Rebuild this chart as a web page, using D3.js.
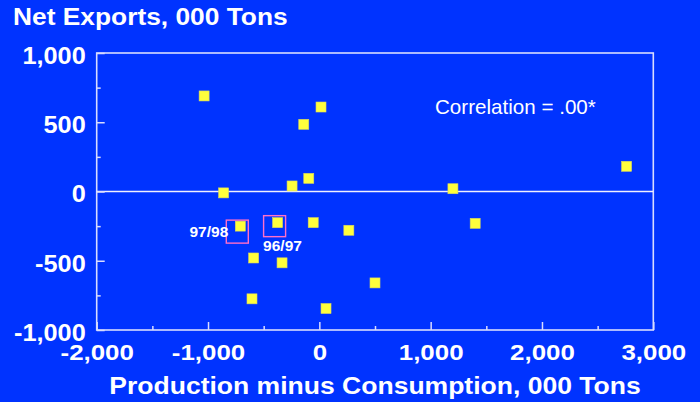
<!DOCTYPE html>
<html>
<head>
<meta charset="utf-8">
<script src="https://cdn.jsdelivr.net/npm/d3@7"></script>
<style>
  html, body { margin: 0; padding: 0; background: #0033FF; }
  svg { display: block; }
  text { font-family: "Liberation Sans", Arial, sans-serif; }
</style>
</head>
<body>
<svg id="chart" width="700" height="402"></svg>
<script>
// ---- data ----
const pointX = [-1035, 15, -140, -95, -245, -860, -710, -375, -55, 265, -590, -335, 500, -605, 60, 1200, 1400, 2760];
const pointY = [690, 610, 485, 95, 40, -10, -250, -225, -225, -280, -480, -515, -660, -775, -845, 20, -230, 182];
const annotatedIndex = [6, 7];
const annotatedText = ["97/98", "96/97"];
const xTickValues = [-2000, -1000, 0, 1000, 2000, 3000];
const xTickLabels = ["-2,000", "-1,000", "0", "1,000", "2,000", "3,000"];
const xMinorTicks = [-1500, -500, 500, 1500, 2500];
const yTickValues = [-1000, -500, 0, 500, 1000];
const yTickLabels = ["-1,000", "-500", "0", "500", "1,000"];
const yMinorTicks = [-750, -250, 250, 750];
const titleText = "Net Exports, 000 Tons";
const xTitleText = "Production minus Consumption, 000 Tons";
const noteText = "Correlation = .00*";

// ---- layout ----
const svg = d3.select("#chart");
const mLeft = 96.7, mRight = 653.3, mTop = 53, mBottom = 330;
const x = d3.scaleLinear().domain([-2000, 3000]).range([mLeft, mRight]);
const y = d3.scaleLinear().domain([-1000, 1000]).range([mBottom, mTop]);
const lineColor = "#d8dcff";

svg.append("rect").attr("width", 700).attr("height", 402).attr("fill", "#0033FF");

function stretch(sel, k) {
  sel.each(function () {
    const len = this.getComputedTextLength();
    d3.select(this).attr("textLength", len * k).attr("lengthAdjust", "spacingAndGlyphs");
  });
}

// frame
svg.append("rect")
  .attr("x", mLeft).attr("y", mTop)
  .attr("width", mRight - mLeft).attr("height", mBottom - mTop)
  .attr("fill", "none").attr("stroke", lineColor).attr("stroke-width", 1.6);

// zero line
svg.append("line")
  .attr("x1", mLeft).attr("x2", mRight)
  .attr("y1", y(0)).attr("y2", y(0))
  .attr("stroke", "#f0f0ff").attr("stroke-width", 1.6);

// y axis
const yAxis = svg.append("g").attr("transform", `translate(${mLeft},0)`)
  .call(d3.axisLeft(y).tickValues(yTickValues)
    .tickFormat((d, i) => yTickLabels[i]).tickSize(-8).tickPadding(11));
yAxis.select(".domain").remove();
yAxis.selectAll(".tick line").attr("stroke", lineColor).attr("stroke-width", 1.5);
yAxis.selectAll(".tick text")
  .attr("fill", "#fff").attr("font-size", 23).attr("font-weight", "bold")
  .attr("font-family", "Liberation Sans, Arial, sans-serif")
  .attr("dy", "0.45em");
stretch(yAxis.selectAll(".tick text"), 1.1);

const yMinor = svg.append("g").attr("transform", `translate(${mLeft},0)`)
  .call(d3.axisLeft(y).tickValues(yMinorTicks).tickFormat("").tickSize(-4));
yMinor.select(".domain").remove();
yMinor.selectAll(".tick line").attr("stroke", lineColor).attr("stroke-width", 1.5);

// x axis
const xAxis = svg.append("g").attr("transform", `translate(0,${mBottom})`)
  .call(d3.axisBottom(x).tickValues(xTickValues)
    .tickFormat((d, i) => xTickLabels[i]).tickSize(-8).tickPadding(14));
xAxis.select(".domain").remove();
xAxis.selectAll(".tick line").attr("stroke", lineColor).attr("stroke-width", 1.5);
xAxis.selectAll(".tick text")
  .attr("fill", "#fff").attr("font-size", 22.5).attr("font-weight", "bold")
  .attr("font-family", "Liberation Sans, Arial, sans-serif");
stretch(xAxis.selectAll(".tick text"), 1.15);

const xMinor = svg.append("g").attr("transform", `translate(0,${mBottom})`)
  .call(d3.axisBottom(x).tickValues(xMinorTicks).tickFormat("").tickSize(-4));
xMinor.select(".domain").remove();
xMinor.selectAll(".tick line").attr("stroke", lineColor).attr("stroke-width", 1.5);

// titles
const t1 = svg.append("text").attr("x", 13).attr("y", 25)
  .attr("fill", "#fff").attr("font-size", 23).attr("font-weight", "bold")
  .text(titleText);
stretch(t1, 1.145);

const t2 = svg.append("text").attr("x", 375).attr("y", 394)
  .attr("text-anchor", "middle")
  .attr("fill", "#fff").attr("font-size", 24).attr("font-weight", "bold")
  .text(xTitleText);
stretch(t2, 1.105);

svg.append("text").attr("x", 435).attr("y", 114)
  .attr("fill", "#fff").attr("font-size", 20.6)
  .text(noteText);

// points
const pts = pointX.map((v, i) => ({ x: v, y: pointY[i] }));
const sq = 10;
svg.append("g").selectAll("rect").data(pts).join("rect")
  .attr("x", d => x(d.x) - sq / 2).attr("y", d => y(d.y) - sq / 2)
  .attr("width", sq).attr("height", sq)
  .attr("fill", "#ffff3c").attr("stroke", "#d8d860").attr("stroke-width", 0.6);

// annotation boxes and labels
const ann = annotatedIndex.map((idx, i) => ({ p: pts[idx], text: annotatedText[i], i }));
svg.append("g").selectAll("rect").data(ann).join("rect")
  .attr("x", d => x(d.p.x) - 14).attr("y", d => y(d.p.y) - (d.i === 0 ? 6 : 7))
  .attr("width", 22).attr("height", d => d.i === 0 ? 23 : 21)
  .attr("fill", "none").attr("stroke", "#ff6fc8").attr("stroke-width", 1.4);

svg.append("g").selectAll("text").data(ann).join("text")
  .attr("x", d => d.i === 0 ? x(d.p.x) - 12 : x(d.p.x) - 14.5)
  .attr("y", d => d.i === 0 ? y(d.p.y) + 11 : y(d.p.y) + 28)
  .attr("text-anchor", d => d.i === 0 ? "end" : "start")
  .attr("fill", "#fff").attr("font-size", 15.5).attr("font-weight", "bold")
  .text(d => d.text);
</script>
</body>
</html>
